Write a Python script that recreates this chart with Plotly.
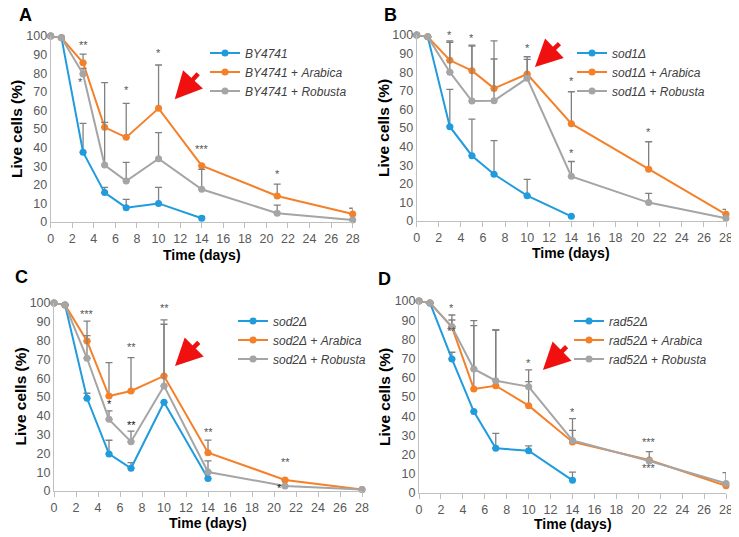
import plotly.graph_objects as go

# the page puts the figure 8px in from the top-left corner
OFF = 8
W, H = 739 - OFF, 537 - OFF

days = [0, 1, 3, 5, 7, 10, 14, 21, 28]
days_short = [0, 1, 3, 5, 7, 10, 14]

# panel A - BY4741
a_names = ['<i>BY4741</i>', '<i>BY4741</i> + <i>Arabica</i>', '<i>BY4741</i> + <i>Robusta</i>']
a_ctrl = [100, 99, 37.5, 15.8, 7.7, 10, 2]
a_ctrl_err = [0, 0, 15.5, 2.8, 4.5, 8.6, 1]
a_arab = [100, 99, 85.6, 50.9, 45.5, 61.1, 30.3, 14, 4.3]
a_arab_err = [0, 0, 4.7, 24, 18.3, 23.3, 0, 6.4, 3.1]
a_rob = [100, 99, 79.6, 30.6, 22, 34, 17.6, 4.7, 1.1]
a_rob_err = [0, 0, 3, 23, 10.1, 14, 10.7, 4.4, 0.5]
a_star_x = [3, 2.75, 7, 10, 14, 21]
a_star_y = [95, 75.4, 71, 91, 39.2, 26]
a_star_t = ['**', '*', '*', '*', '***', '*']

# panel B - sod1
b_names = ['<i>sod1Δ</i>', '<i>sod1Δ</i> + <i>Arabica</i>', '<i>sod1Δ</i> + <i>Robusta</i>']
b_ctrl = [100, 99, 50.7, 35.1, 25.1, 13.6, 2.5]
b_ctrl_err = [0, 0, 20.1, 19.7, 18.1, 8.8, 0]
b_arab = [100, 99, 86.4, 80.8, 71.3, 79, 52.3, 27.8, 3.6]
b_arab_err = [0, 0, 10.4, 13.8, 25.5, 9.3, 17.2, 14.8, 2.7]
b_rob = [100, 99, 80, 64.5, 64.7, 76.7, 24, 9.9, 1.5]
b_rob_err = [0, 0, 16.1, 29.5, 22.4, 10.2, 8, 5, 0.5]
b_star_x = [3, 5, 7, 10, 14, 14, 21]
b_star_y = [100, 98.5, 101.5, 93.2, 75.3, 36.4, 47.7]
b_star_t = ['*', '*', '*', '*', '*', '*', '*']

# panel C - sod2
c_names = ['<i>sod2Δ</i>', '<i>sod2Δ</i> + <i>Arabica</i>', '<i>sod2Δ</i> + <i>Robusta</i>']
c_ctrl = [100, 99, 49.3, 19.7, 12.1, 47.2, 6.6]
c_ctrl_err = [0, 0, 2.7, 7.3, 3, 0, 0]
c_arab = [100, 99, 79.8, 50.5, 53.2, 61.2, 20.4, 5.9, 0.8]
c_arab_err = [0, 0, 10.6, 17.8, 17.7, 29.8, 6.7, 0, 0]
c_rob = [100, 99, 70.6, 38.1, 26.2, 55.9, 10.1, 2.7, 0.8]
c_rob_err = [0, 0, 12, 4.5, 5.7, 32.8, 5.9, 0, 0]
c_star_x = [3, 5, 7, 7, 10, 14, 21, 20.5]
c_star_y = [94, 46.1, 76.4, 35.1, 97.3, 31.6, 15.3, 1.8]
c_star_t = ['***', '*', '**', '**', '**', '**', '**', '*']
c_star_dark = [False, True, False, True, False, False, False, True]

# panel D - rad52
d_names = ['<i>rad52Δ</i>', '<i>rad52Δ</i> + <i>Arabica</i>', '<i>rad52Δ</i> + <i>Robusta</i>']
d_ctrl = [100, 99, 69.8, 42.4, 23.3, 22, 6.6]
d_ctrl_err = [0, 0, 3.5, 0, 7.8, 2.5, 4.3]
d_arab = [100, 99, 86.5, 54.2, 55.9, 45.5, 26.6, 17.2, 3.8]
d_arab_err = [0, 0, 3.6, 33, 29, 12.5, 6, 0, 0]
d_rob = [100, 99, 86.6, 64.6, 58.5, 55.4, 27.4, 16.7, 5]
d_rob_err = [0, 0, 6.1, 25.2, 26.4, 8.7, 11.3, 4.8, 5.6]
d_star_x = [3, 3, 10, 14, 21, 21]
d_star_y = [96.2, 84.4, 67.9, 42.2, 26.7, 13.2]
d_star_t = ['*', '**', '*', '*', '***', '***']

COLORS = ['#1F9BDE', '#F5802A', '#A5A5A5']
FONT = 'Arial, Liberation Sans, sans-serif'


def px(x):
    return (x - OFF) / W


def py(y):
    return 1 - (y - OFF) / H


# pixel boxes of each plot area: left, right, top, bottom
panels = [
    dict(letter='A', box=(50.7, 352.7, 36, 222), names=a_names,
         series=[(days_short, a_ctrl, a_ctrl_err), (days, a_arab, a_arab_err), (days, a_rob, a_rob_err)],
         stars=(a_star_x, a_star_y, a_star_t, None),
         letter_pos=(25, 15), ytitle_x=17, xtitle_y=255, legend=(205, 72),
         arrow=((11.5, 66), (13.8, 80.5))),
    dict(letter='B', box=(416.7, 726, 35, 221), names=b_names,
         series=[(days_short, b_ctrl, b_ctrl_err), (days, b_arab, b_arab_err), (days, b_rob, b_rob_err)],
         stars=(b_star_x, b_star_y, b_star_t, None),
         letter_pos=(390, 15), ytitle_x=384, xtitle_y=253, legend=(572, 72),
         arrow=((10.7, 82.8), (13.06, 96.2))),
    dict(letter='C', box=(54, 362, 303, 491), names=c_names,
         series=[(days_short, c_ctrl, c_ctrl_err), (days, c_arab, c_arab_err), (days, c_rob, c_rob_err)],
         stars=(c_star_x, c_star_y, c_star_t, c_star_dark),
         letter_pos=(21, 277), ytitle_x=19.5, xtitle_y=523, legend=(233, 340),
         arrow=((11, 66.5), (13.3, 79.8))),
    dict(letter='D', box=(419, 726, 301, 493), names=d_names,
         series=[(days_short, d_ctrl, d_ctrl_err), (days, d_arab, d_arab_err), (days, d_rob, d_rob_err)],
         stars=(d_star_x, d_star_y, d_star_t, None),
         letter_pos=(384, 279), ytitle_x=384, xtitle_y=524, legend=(569, 340),
         arrow=((11.3, 64), (13.6, 77))),
]

fig = go.Figure()
annotations = []
layout = {}

for i, p in enumerate(panels):
    n = '' if i == 0 else str(i + 1)
    xa, ya = 'x' + n, 'y' + n
    leg = 'legend' + n
    left, right, top, bottom = p['box']

    for (xs, ys, err), name, color in zip(p['series'], p['names'], COLORS):
        fig.add_trace(go.Scatter(
            x=xs, y=ys, name=name, mode='lines+markers',
            xaxis=xa, yaxis=ya, legend=leg, cliponaxis=False,
            line=dict(color=color, width=2),
            marker=dict(color=color, size=7),
            error_y=dict(type='data', array=err, arrayminus=[0] * len(err), symmetric=False,
                         color='#808080', thickness=1.3, width=3.5),
        ))

    layout['xaxis' + n] = dict(
        domain=[px(left), px(right)], anchor=ya, range=[0, 28], dtick=2,
        showline=True, linecolor='#BFBFBF', linewidth=1, showgrid=False, zeroline=False,
        ticks='outside', ticklen=5, tickcolor='#BFBFBF',
        tickfont=dict(family=FONT, size=12.5, color='#595959'), automargin=False,
    )
    layout['yaxis' + n] = dict(
        domain=[py(bottom), py(top)], anchor=xa, range=[0, 100], dtick=10,
        showline=True, linecolor='#BFBFBF', linewidth=1, showgrid=False, zeroline=False,
        ticks='', tickfont=dict(family=FONT, size=12.5, color='#595959'), automargin=False,
    )
    layout[leg] = dict(
        x=px(p['legend'][0]), y=py(p['legend'][1]), xanchor='left', yanchor='middle',
        bgcolor='rgba(0,0,0,0)', font=dict(family=FONT, size=12, color='#404040'),
        itemwidth=30, tracegroupgap=0,
    )

    sx, sy, st, dark = p['stars']
    for k in range(len(sx)):
        col = '#111111' if (dark and dark[k]) else '#555555'
        annotations.append(dict(x=sx[k], y=sy[k], xref=xa, yref=ya, text=st[k], showarrow=False,
                                xanchor='center', yanchor='middle',
                                font=dict(family=FONT, size=11, color=col)))

    (tx, ty), (tlx, tly) = p['arrow']
    annotations.append(dict(x=tx, y=ty, ax=tlx, ay=tly, xref=xa, yref=ya, axref=xa, ayref=ya,
                            text='', showarrow=True, arrowhead=2, arrowsize=1.2, arrowwidth=4.5,
                            arrowcolor='#F01010'))

    annotations.append(dict(x=px(p['letter_pos'][0]), y=py(p['letter_pos'][1]), xref='paper', yref='paper',
                            text='<b>' + p['letter'] + '</b>', showarrow=False,
                            xanchor='center', yanchor='middle',
                            font=dict(family=FONT, size=18, color='black')))
    annotations.append(dict(x=px((left + right) / 2), y=py(p['xtitle_y']), xref='paper', yref='paper',
                            text='<b>Time (days)</b>', showarrow=False,
                            xanchor='center', yanchor='middle',
                            font=dict(family=FONT, size=14, color='black')))
    annotations.append(dict(x=px(p['ytitle_x']), y=py((top + bottom) / 2), xref='paper', yref='paper',
                            text='<b>Live cells (%)</b>', showarrow=False, textangle=-90,
                            xanchor='center', yanchor='middle',
                            font=dict(family=FONT, size=15.5, color='black')))

fig.update_layout(
    width=W, height=H,
    margin=dict(l=0, r=0, t=0, b=0),
    plot_bgcolor='white', paper_bgcolor='white',
    showlegend=True,
    annotations=annotations,
    **layout,
)

fig.write_html('out.html')
